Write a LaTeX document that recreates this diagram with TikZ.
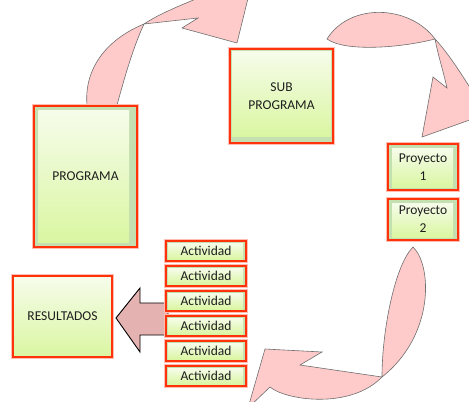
\documentclass[tikz,border=0pt]{standalone}
\usepackage{fontspec}
\setmainfont{Carlito}
\definecolor{boxred}{RGB}{255,50,10}
\definecolor{glow}{RGB}{255,190,180}
\definecolor{darkg}{RGB}{196,223,176}
\definecolor{ltop}{RGB}{246,252,234}
\definecolor{lbot}{RGB}{218,246,162}
\definecolor{txt}{RGB}{30,30,30}
\definecolor{apink}{RGB}{255,202,202}
\definecolor{aline}{RGB}{110,110,110}
\definecolor{bpink}{RGB}{229,178,178}
\tikzset{
  gbox/.style n args={4}{preaction={draw=glow,line width=3.5pt},
    draw=boxred, line width=2pt, inner sep=0pt, align=center,
    font=\fontsize{13.5}{18}\selectfont, text=txt,
    path picture={
      \fill[darkg] (path picture bounding box.south west) rectangle (path picture bounding box.north east);
      \shade[top color=ltop,bottom color=lbot]
        ([shift={(#1,-#2)}]path picture bounding box.north west) rectangle
        ([shift={(-#3,#4)}]path picture bounding box.south east);}},
  curvearrow/.style={fill=apink, draw=aline, line width=0.6pt, line join=miter},
  blockarrow/.style={fill=bpink, draw=black, line width=0.9pt}
}
\begin{document}
\begin{tikzpicture}[x=1pt,y=-1pt]
\useasboundingbox (0,0) rectangle (469,402);
\begin{scope}
\clip (0,0) rectangle (469,402);
% arrow PROGRAMA -> SUB PROGRAMA
\path[curvearrow] (144,24) -- (198,18) -- (182,28) -- (237,43) -- (253,-22) -- (222,-12)
  .. controls (200,-2) and (165,10) .. (144,24)
  .. controls (132,50) and (124,80) .. (117,105) -- (87,105)
  .. controls (84,70) and (105,40) .. cycle;
% arrow SUB PROGRAMA -> Proyecto
\path[curvearrow] (435,39) .. controls (450,55) and (465,80) .. (478,100)
  -- (492,112) -- (422,137) -- (433,77) -- (447,88)
  .. controls (443,70) and (438,55) .. (435,39)
  .. controls (400,48) and (345,52) .. (327,39)
  .. controls (350,2) and (410,5) .. cycle;
% arrow Proyecto -> Actividad
\path[curvearrow] (382,377) -- (300,365) -- (322,352) -- (265,349) -- (248,408) -- (270,387)
  .. controls (285,400) and (350,410) .. (382,377)
  .. controls (435,335) and (432,265) .. (413,247)
  .. controls (395,265) and (382,330) .. cycle;
\end{scope}
% block arrow Actividad -> RESULTADOS
\path[blockarrow] (116,318) -- (140,288) -- (140,303) -- (168,303) -- (168,335) -- (140,335) -- (140,352) -- cycle;
% boxes
\node[gbox={4pt}{4pt}{8pt}{5pt}, minimum width=103pt, minimum height=141pt] (prog) at (85.5,176.5) {PROGRAMA};
\node[gbox={2pt}{2pt}{2pt}{7pt}, minimum width=103pt, minimum height=94pt] (sub) at (281.5,96) {SUB\\PROGRAMA};
\node[gbox={4pt}{4pt}{5pt}{3pt}, minimum width=70pt, minimum height=46pt] (p1) at (423,167) {Proyecto\\1};
\node[gbox={4pt}{4pt}{5pt}{3pt}, minimum width=70pt, minimum height=41pt] (p2) at (423,219.5) {Proyecto\\2};
\foreach \i in {0,...,5}{
  \node[gbox={2pt}{2pt}{3pt}{2pt}, minimum width=80pt, minimum height=20pt] (act\i) at (206,{251+25*\i}) {Actividad};
}
\node[gbox={1pt}{1pt}{1pt}{1pt}, minimum width=99pt, minimum height=81pt] (res) at (62.5,316.5) {RESULTADOS};
\end{tikzpicture}
\end{document}
